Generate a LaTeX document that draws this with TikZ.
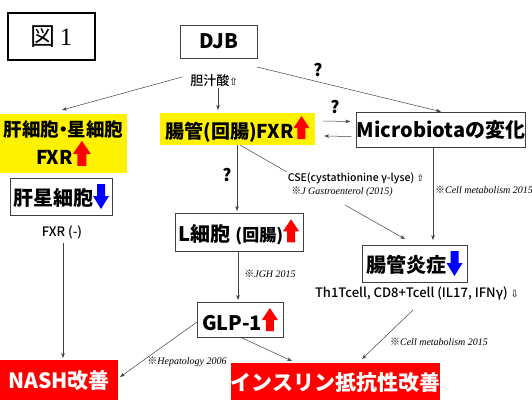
\documentclass[tikz,border=0pt]{standalone}
\usepackage{fontspec}
\setmainfont{Noto Sans CJK JP}
\newfontfamily\med{Noto Sans CJK JP Medium}
\newfontfamily\serifref{Liberation Serif}
\newfontfamily\dv{DejaVu Sans}
\usetikzlibrary{arrows.meta,calc}
\newcommand\upa{\tikz[baseline=1pt,x=1pt,y=1pt]\fill[red] (-4,0) rectangle (4,12) (-8,11)--(0,23)--(8,11)--cycle;}
\newcommand\bigupa{\tikz[baseline=1pt,x=1pt,y=1pt]\fill[red] (-4.5,0) rectangle (4.5,13) (-9,12)--(0,25)--(9,12)--cycle;}
\newcommand\dna{\tikz[baseline=4pt,x=1pt,y=1pt]\fill[blue] (-4,25) rectangle (4,12) (-8,13)--(0,0)--(8,13)--cycle;}
\begin{document}
\begin{tikzpicture}[x=1pt,y=-1pt,
  bx/.style={draw=black!75, line width=0.7pt, fill=white, inner sep=0pt, font=\bfseries\fontsize{20}{22}\selectfont},
  ybx/.style={fill=yellow, inner sep=0pt, font=\bfseries\fontsize{19}{30}\selectfont},
  rbx/.style={fill=red, text=white, inner sep=0pt, font=\bfseries\fontsize{21}{22}\selectfont},
  conn/.style={-{Stealth[length=5pt,width=3.6pt]}, line width=0.5pt, black!75},
  pl/.style={line width=0.5pt, black!75},
  q/.style={font=\bfseries\fontsize{17}{18}\selectfont, inner sep=0pt},
  rf/.style={font=\fontsize{10}{12}\selectfont, inner sep=0pt},
  sm/.style={font=\med\fontsize{13}{15}\selectfont, inner sep=0pt}]
\useasboundingbox (0,0) rectangle (532,399);
% boxes
\node[draw=black, line width=1.4pt, minimum width=87pt, minimum height=47pt, inner sep=0pt] (fig) at (51.5,36.5) {\fontsize{25}{26}\selectfont 図\,{\serifref 1}};
\node[bx, minimum width=77pt, minimum height=33pt] (djb) at (218.5,41.5) {DJB};
\node[sm] (bile) at (214,81) {胆汁酸{\dv\fontsize{10}{12}\selectfont ⇧}};
\node[ybx, minimum width=127pt, minimum height=59pt, align=center] (liver) at (63.5,143.5) {\fontsize{18.5}{30}\selectfont 肝細胞\kern-5pt・\kern-5pt星細胞\\[-2pt]FXR\bigupa};
\node[ybx, minimum width=155pt, minimum height=32pt] (gut) at (237.5,129) {腸管(回腸)FXR\upa};
\node[bx, minimum width=168pt, minimum height=35pt] (micro) at (441,129.5) {Microbiotaの変化};
\node[bx, minimum width=102pt, minimum height=37pt] (hsc) at (61,196.5) {肝星細胞\dna};
\node[sm] (fxrm) at (62,232) {FXR (-)};
\node[bx, minimum width=128pt, minimum height=38pt] (lcell) at (239,232) {L細胞 {\fontsize{17}{18}\selectfont(回腸)}\upa};
\node[rf, font=\med\fontsize{10.5}{12}\selectfont] (cse) at (356,178) {CSE(cystathionine γ-lyse) {\dv\fontsize{9}{10}\selectfont ⇧}};
\node[rf] (jg) at (342,192) {※{\serifref\itshape J Gastroenterol (2015)}};
\node[rf] (cm1) at (484,190) {※{\serifref\itshape Cell metabolism 2015}};
\node[bx, minimum width=105pt, minimum height=37pt] (inflam) at (414.5,263.5) {腸管炎症\dna};
\node[sm] (th1) at (417,293) {Th1Tcell, CD8+Tcell (IL17, IFNγ) {\dv\fontsize{10}{12}\selectfont ⇩}};
\node[rf] (jgh) at (270,274) {※{\serifref\itshape JGH 2015}};
\node[bx, minimum width=86pt, minimum height=35pt] (glp) at (240,319.5) {GLP-1\upa};
\node[rf] (hep) at (187,362) {※{\serifref\itshape Hepatology 2006}};
\node[rf] (cm2) at (439,342) {※{\serifref\itshape Cell metabolism 2015}};
\node[rbx, minimum width=118pt, minimum height=42pt] (nash) at (59,381) {NASH改善};
\node[rbx, minimum width=205pt, minimum height=40pt] (ins) at (335.5,383) {インスリン抵抗性改善};
% question marks
\node[q] (q1) at (318,70) {?};
\node[q] (q2) at (335,107) {?};
\node[q] (q3) at (227,175) {?};
% connectors
\coordinate (b1) at (182,77);
\coordinate (b2) at (257,67);
\draw[conn] (b1) -- (62,110);
\draw[conn] (218,88) -- (218,110);
\draw[conn] (b2) -- (micro.north);
\draw[conn] ($(gut.east)+(8,-8)$) -- ($(micro.west)+(-6,-8)$);
\draw[conn] ($(micro.west)+(-5,7)$) -- ($(gut.east)+(9,7)$);
\draw[conn] (237,145) -- (237,211);
\draw[pl] (240,145) -- (287,172);
\draw[conn] (345,205) -- (405,239);
\draw[conn] (433,147) -- (433,240);
\draw[conn] (fxrm.south) ++(1,4) -- (63,358);
\draw[conn] (238,251) -- (238,300);
\draw[conn] (197,322) -- (120,377);
\draw[conn] (240,337) -- (292,361);
\draw[conn] (413,310) -- (362,359);
\end{tikzpicture}
\end{document}
